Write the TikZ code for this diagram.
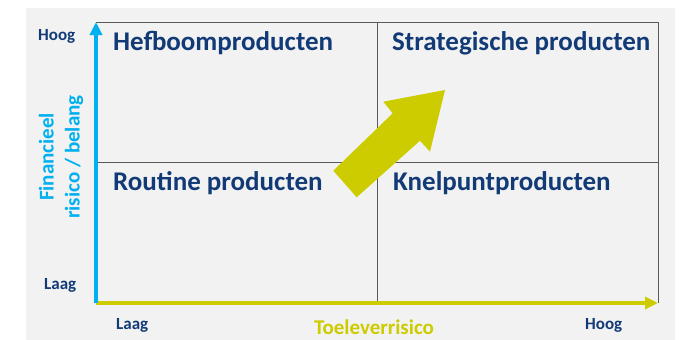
\documentclass[tikz,border=0pt]{standalone}
\usepackage{fontspec}
\setmainfont{Carlito}
\usetikzlibrary{arrows.meta}
\definecolor{bgray}{RGB}{242,242,242}
\definecolor{ttlblue}{RGB}{18,58,118}
\definecolor{axblue}{RGB}{0,176,240}
\definecolor{axyel}{RGB}{204,204,0}
\definecolor{gridc}{RGB}{90,90,90}
\tikzset{
  quadtitle/.style={anchor=base west, inner sep=0pt, text=ttlblue, font=\bfseries\fontsize{27}{27}\selectfont},
  tick/.style={anchor=base west, inner sep=0pt, text=ttlblue, font=\bfseries\fontsize{17}{17}\selectfont},
  axlabel/.style={inner sep=0pt, font=\bfseries\fontsize{21}{26}\selectfont},
  gridline/.style={draw=gridc, line width=0.9pt},
  axisline/.style={line width=3.3pt, -{Triangle[length=13pt,width=12pt]}}
}
\begin{document}
\begin{tikzpicture}[x=1pt,y=-1pt]
\useasboundingbox (0,0) rectangle (680,340);
\fill[bgray] (26,8) rectangle (675,340);
% grid
\coordinate (o) at (96,303);
\coordinate (tl) at (96,22);
\coordinate (tr) at (658,22);
\coordinate (br) at (658,303);
\coordinate (mt) at (377,22);
\coordinate (mb) at (377,303);
\coordinate (ml) at (96,162);
\coordinate (mr) at (658,162);
\draw[gridline] (tl) -- (tr) -- (br);
\draw[gridline] (mt) -- (mb);
\draw[gridline] (ml) -- (mr);
% axes
\draw[axisline, draw=axyel, fill=axyel] (o) -- (br);
\draw[axisline, draw=axblue, fill=axblue] (o) -- (tl);
% big arrow
\fill[axyel] (445,90) -- (383.3,101.7) -- (392.7,113.3) -- (333.3,170.7)
  -- (356.7,197.3) -- (420,140.7) -- (430,151.7) -- cycle;
% quadrant titles
\node[quadtitle] (q1) at (113,50) {Hefboomproducten};
\node[quadtitle] (q2) at (392,50) {Strategische producten};
\node[quadtitle] (q3) at (113,190) {Routine producten};
\node[quadtitle] (q4) at (393,190) {Knelpuntproducten};
% ticks
\node[tick] (yh) at (38,40) {Hoog};
\node[tick] (yl) at (44,289) {Laag};
\node[tick] (xl) at (116,329) {Laag};
\node[tick] (xh) at (585,329) {Hoog};
% axis labels
\node[axlabel, text=axyel, anchor=base] (xlab) at (374,334) {Toeleverrisico};
\node[axlabel, text=axblue, rotate=90, align=center] (ylab) at (61,157) {Financieel\\risico / belang};
\end{tikzpicture}
\end{document}
